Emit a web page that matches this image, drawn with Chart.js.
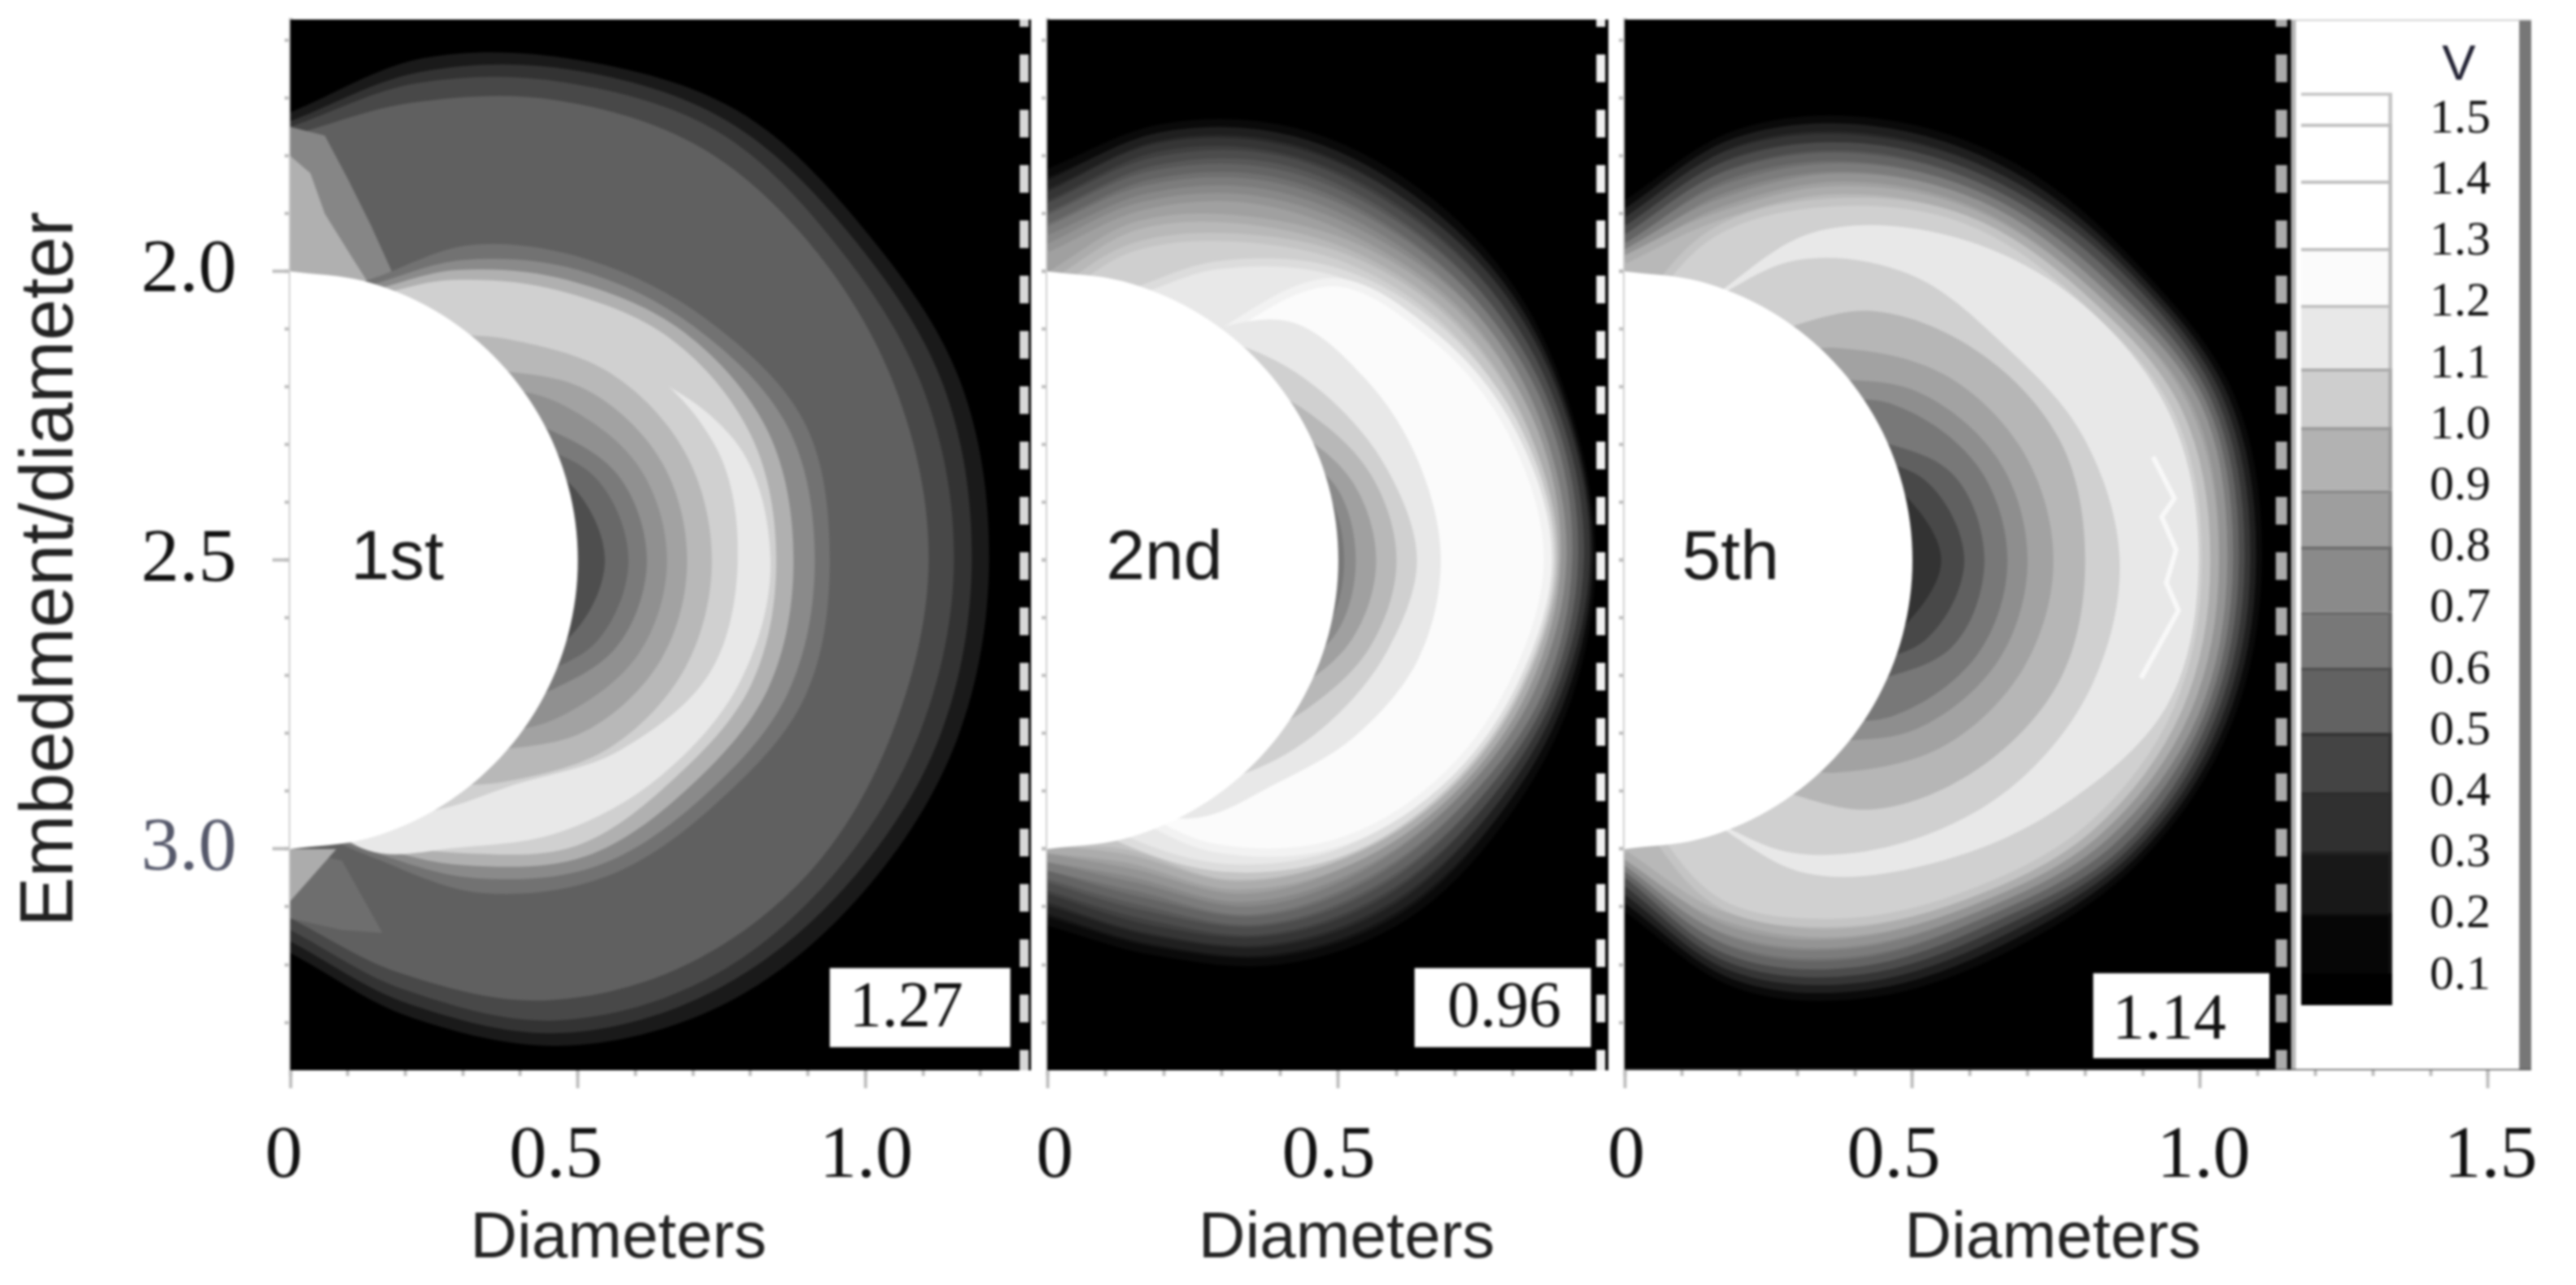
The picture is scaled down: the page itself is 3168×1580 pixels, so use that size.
<!DOCTYPE html>
<html><head><meta charset="utf-8">
<style>
html,body{margin:0;padding:0;background:#fff;overflow:hidden}
canvas{position:absolute;filter:blur(1.5px)}
</style>
<script src="https://cdn.jsdelivr.net/npm/chart.js@4"></script>
</head><body>
<canvas id="c1" width="1278" height="1580" style="left:0;top:0"></canvas>
<canvas id="c2" width="710" height="1580" style="left:1278px;top:0"></canvas>
<canvas id="c3" width="1218" height="1580" style="left:1950px;top:0"></canvas>
<canvas id="c4" width="277" height="1292" style="left:2823px;top:24px"></canvas>
<script>
// ---------- axes ----------
const yMin = 1.564, yMax = 3.383, yCentre = 2.5;
const yMajor = [2.0, 2.5, 3.0];
const yMinor = [1.6,1.7,1.8,1.9,2.0,2.1,2.2,2.3,2.4,2.5,2.6,2.7,2.8,2.9,3.0,3.1,3.2,3.3];
const p1XMax = 1.288, p2XMax = 0.964, p3XMax = 1.575;
const p1XMajor = [0,0.5,1.0], p2XMajor = [0,0.5], p3XMajor = [0,0.5,1.0,1.5];
const p1XMinor = [0,0.1,0.2,0.3,0.4,0.5,0.6,0.7,0.8,0.9,1.0,1.1,1.2];
const p2XMinor = [0,0.1,0.2,0.3,0.4,0.5,0.6,0.7,0.8,0.9];
const p3XMinor = [0,0.1,0.2,0.3,0.4,0.5,0.6,0.7,0.8,0.9,1.0,1.1,1.2,1.3,1.4,1.5];
const panelNames = ['1st','2nd','5th'];
const panelPeaks = ['1.27','0.96','1.14'];

// ---------- contour radii (diameters from the disc centre) read at these angles ----------
const angles = [90,75,60,45,30,15,0,-15,-30,-45,-60,-75,-90];
const discRadius = [.5,.5,.5,.5,.5,.5,.5,.5,.5,.5,.5,.5,.5];

const p1Colors = ['#1a1a1a','#333333','#484848','#606060','#727272','#8a8a8a','#b0b0b0','#d0d0d0','#e8e8e8','#d0d0d0','#b8b8b8','#a2a2a2','#909090','#7a7a7a','#686868','#4e4e4e'];
const p1Radii = [
 [.775,.90,1.00,1.10,1.15,1.205,1.215,1.20,1.15,1.08,.97,.82,.68],
 [.76,.875,.98,1.075,1.125,1.175,1.185,1.17,1.12,1.05,.945,.795,.66],
 [.75,.855,.955,1.05,1.095,1.14,1.154,1.135,1.09,1.025,.92,.77,.64],
 [.735,.82,.92,1.01,1.06,1.095,1.11,1.09,1.055,.985,.88,.74,.62],
 [.45,.50,.63,.735,.835,.925,.938,.925,.85,.775,.665,.53,.45],
 [.45,.49,.60,.71,.81,.895,.912,.895,.825,.75,.635,.52,.45],
 [.45,.48,.58,.685,.79,.86,.875,.86,.795,.725,.61,.51,.45],
 [.45,.47,.56,.66,.765,.83,.845,.83,.765,.70,.585,.50,.45],
 [.4,.4,.4,.4,.66,.80,.835,.81,.745,.665,.575,.52,.4],
 [.4,.4,.4,.45,.68,.765,.778,.755,.66,.55,.50,.45,.4],
 [.4,.4,.45,.54,.645,.712,.733,.712,.645,.54,.45,.4,.4],
 [.4,.4,.4,.47,.592,.667,.69,.667,.592,.47,.4,.4,.4],
 [.4,.4,.4,.44,.542,.627,.655,.627,.542,.44,.4,.4,.4],
 [.4,.4,.4,.4,.482,.586,.62,.586,.482,.4,.4,.4,.4],
 [.4,.4,.4,.4,.44,.55,.588,.55,.44,.4,.4,.4,.4],
 [.4,.4,.4,.4,.4,.505,.547,.505,.4,.4,.4,.4,.4]
];
// light wedges beside the disc in the first panel: x, signed distance from the centre line
const p1WedgeHaloX = [0,.06,.10,.14,.19,0];
const p1WedgeHaloY = [-.75,-.735,-.66,-.58,-.47,-.45];
const p1WedgeX = [0,.035,.06,.11,.155,0];
const p1WedgeY = [-.70,-.67,-.60,-.52,-.45,-.45];
const p1LowPatchX = [0,.09,.16,.09,0];
const p1LowPatchY = [.50,.52,.645,.64,.62];
const p1LowWedgeX = [0,.08,0];
const p1LowWedgeY = [.50,.50,.59];

const p2Colors = ['#141414','#2a2a2a','#404040','#585858','#707070','#888888','#a0a0a0','#b8b8b8','#cfcfcf','#e8e8e8','#fbfbfb','#e8e8e8','#d0d0d0','#b8b8b8','#a0a0a0','#8a8a8a','#787878'];
const p2Halftones = ['#0a0a0a','#1f1f1f','#353535','#4c4c4c','#646464','#7c7c7c','#949494','#acacac','#c4c4c4','#dcdcdc','#f2f2f2'];
const p2Radii = [
 [.67,.775,.855,.90,.925,.93,.935,.925,.90,.87,.80,.70,.625],
 [.65,.76,.84,.885,.915,.925,.93,.915,.885,.85,.78,.68,.605],
 [.63,.74,.82,.87,.905,.92,.925,.905,.87,.83,.76,.66,.585],
 [.61,.715,.80,.85,.89,.91,.915,.895,.855,.81,.74,.635,.565],
 [.59,.69,.775,.83,.875,.90,.905,.885,.84,.79,.72,.61,.545],
 [.57,.665,.75,.81,.86,.89,.895,.875,.825,.77,.70,.585,.53],
 [.54,.635,.72,.785,.845,.875,.885,.86,.81,.75,.675,.56,.515],
 [.49,.60,.68,.76,.825,.865,.875,.85,.80,.735,.65,.535,.50],
 [.45,.56,.645,.735,.805,.85,.87,.84,.79,.72,.63,.51,.49],
 [.42,.47,.59,.705,.785,.84,.865,.835,.785,.715,.615,.50,.40],
 [.4,.4,.4,.68,.77,.83,.86,.828,.775,.695,.575,.44,.4],
 [.4,.4,.45,.585,.63,.66,.676,.66,.61,.55,.515,.44,.4],
 [.4,.4,.45,.51,.56,.605,.635,.605,.56,.51,.45,.4,.4],
 [.4,.4,.4,.45,.515,.575,.60,.575,.515,.45,.4,.4,.4],
 [.4,.4,.4,.4,.47,.54,.565,.54,.47,.4,.4,.4,.4],
 [.4,.4,.4,.4,.43,.51,.53,.51,.43,.4,.4,.4,.4],
 [.4,.4,.4,.4,.4,.49,.51,.49,.4,.4,.4,.4,.4]
];

const p3Colors = ['#141414','#2a2a2a','#404040','#585858','#707070','#888888','#a0a0a0','#b8b8b8','#d0d0d0','#e8e8e8','#d0d0d0','#b6b6b6','#a2a2a2','#8e8e8e','#787878','#606060','#484848','#333333'];
const p3Halftones = ['#0a0a0a','#1f1f1f','#353535','#4c4c4c','#646464','#7c7c7c','#949494','#acacac','#c4c4c4'];
const p3Radii = [
 [.615,.765,.875,.96,1.02,1.09,1.10,1.085,1.03,.945,.865,.76,.60],
 [.60,.75,.86,.945,1.01,1.08,1.09,1.075,1.02,.93,.85,.745,.585],
 [.585,.73,.84,.93,1.00,1.07,1.08,1.065,1.01,.915,.835,.73,.57],
 [.57,.71,.825,.915,.99,1.06,1.07,1.055,1.00,.90,.82,.715,.555],
 [.555,.69,.805,.90,.975,1.05,1.06,1.045,.99,.885,.805,.70,.54],
 [.54,.665,.785,.885,.96,1.04,1.05,1.035,.975,.87,.785,.68,.53],
 [.53,.64,.765,.87,.945,1.03,1.04,1.025,.96,.855,.765,.66,.52],
 [.52,.615,.74,.85,.93,1.01,1.025,1.01,.945,.84,.745,.635,.51],
 [.4,.585,.715,.835,.915,.995,1.01,.995,.93,.825,.725,.61,.4],
 [.4,.45,.655,.795,.905,.98,.997,.975,.865,.745,.625,.45,.4],
 [.4,.45,.6,.70,.755,.825,.86,.84,.78,.69,.585,.45,.4],
 [.4,.4,.45,.61,.715,.785,.80,.785,.715,.61,.45,.4,.4],
 [.4,.4,.4,.52,.642,.718,.745,.718,.642,.52,.4,.4,.4],
 [.4,.4,.4,.45,.585,.672,.70,.672,.585,.45,.4,.4,.4],
 [.4,.4,.4,.4,.539,.634,.665,.634,.539,.4,.4,.4,.4],
 [.4,.4,.4,.4,.45,.587,.625,.587,.45,.4,.4,.4,.4],
 [.4,.4,.4,.4,.4,.539,.59,.539,.4,.4,.4,.4,.4],
 [.4,.4,.4,.4,.4,.49,.55,.49,.4,.4,.4,.4,.4]
];
const p3StreakX = [.918,.955,.933,.958,.941,.962,.897];
const p3StreakY = [2.321,2.393,2.425,2.482,2.539,2.587,2.704];

// ---------- colour bar ----------
const barTicks = [0.1,0.2,0.3,0.4,0.5,0.6,0.7,0.8,0.9,1.0,1.1,1.2,1.3,1.4,1.5];
const barEdges = [1.544,1.493,1.40,1.29,1.197,1.093,.997,.894,.802,.695,.604,.497,.40,.303,.203,.104,.052];
const barFills = ['#ffffff','#ffffff','#ffffff','#fbfbfb','#e8e8e8','#cecece','#b2b2b2','#9e9e9e','#8a8a8a','#787878','#626262','#444444','#303030','#181818','#060606','#000000'];
const barRules = ['#c4c4c4','#bdbdbd','#bdbdbd','#bdbdbd','#bdbdbd','#aaaaaa','#9a9a9a','#8a8a8a','#6e6e6e','#666666','#505050','#333333','#2c2c2c','#222222','#111111','#000000'];

// ---------- drawing helpers ----------
const serif = 'Liberation Serif', sans = 'Liberation Sans';
function polar(r){ return angles.map((a,i)=>({x:r[i]*Math.cos(a*Math.PI/180), y:yCentre-r[i]*Math.sin(a*Math.PI/180)})); }
function poly(xs,ys){ return xs.map((x,i)=>({x, y:yCentre+ys[i]})); }
function filled(data,color,tension,edge){ return {data,backgroundColor:color,borderColor:edge||color,borderWidth:edge?10:0,pointRadius:0,showLine:true,fill:'shape',tension:tension}; }
function stroke(data,color,width,dash,offset){ return {data,borderColor:color,backgroundColor:color,borderWidth:width,pointRadius:0,showLine:true,fill:false,tension:0,borderDash:dash||[],borderDashOffset:offset||0,borderCapStyle:'butt'}; }
function rect(x0,x1,color){ return filled([{x:x0,y:yMin},{x:x1,y:yMin},{x:x1,y:yMax},{x:x0,y:yMax}],color,0); }

const notesPlugin = {
  id:'notes',
  afterDatasetsDraw(chart,args,o){
    const ctx=chart.ctx, xs=chart.scales.x, ys=chart.scales.y;
    ctx.save();
    (o.boxes||[]).forEach(b=>{
      ctx.fillStyle='#fff';
      const x0=xs.getPixelForValue(b.x0),x1=xs.getPixelForValue(b.x1),y0=ys.getPixelForValue(b.y0),y1=ys.getPixelForValue(b.y1);
      ctx.fillRect(x0,y0,x1-x0,y1-y0);
    });
    (o.texts||[]).forEach(t=>{
      ctx.font=t.font; ctx.fillStyle=t.color; ctx.textAlign='center'; ctx.textBaseline='alphabetic';
      ctx.fillText(t.text,xs.getPixelForValue(t.x),ys.getPixelForValue(t.y));
    });
    ctx.restore();
  }
};
const nudgePlugin = {
  id:'nudge',
  afterUpdate(chart,args,o){
    if(o.labelDx){ chart.scales.x.getLabelItems().forEach((it,i)=>{ it.options.translation[0]+=o.labelDx[i]||0; }); }
    const wrap=(scale,dx,dy)=>{ const orig=scale.drawTitle; if(scale._wrapped) return; scale._wrapped=true;
      scale.drawTitle=function(){ const c=this.ctx; c.save(); c.translate(dx,dy); orig.apply(this,arguments); c.restore(); }; };
    if(o.titleDx!==undefined) wrap(chart.scales.x,o.titleDx,0);
    if(o.yTitleDy!==undefined) wrap(chart.scales.y,0,o.yTitleDy);
  }
};
Chart.register(notesPlugin,nudgePlugin);

function setTicks(arr){ return s=>{ s.ticks=arr.map(v=>({value:v})); }; }
function scaleSet(cfg){
  const tick='#bcbcbc';
  return {
    x:{type:'linear',min:0,max:cfg.xMax,position:'bottom',
       afterBuildTicks:setTicks(cfg.xMajor),afterFit:a=>{a.height=264;a.paddingLeft=0;a.paddingRight=0;},
       border:{display:false},
       grid:{drawOnChartArea:false,drawTicks:true,tickLength:22,tickColor:tick,tickWidth:4},
       ticks:{autoSkip:false,maxRotation:0,padding:30,color:'#111',font:{family:serif,size:92},
              callback:v=>v===0?'0':v.toFixed(1)},
       title:{display:true,text:'Diameters',color:'#222',font:{family:sans,size:80},padding:{top:0,bottom:8}}},
    y:{type:'linear',min:yMin,max:yMax,reverse:true,position:'left',
       afterBuildTicks:setTicks(yMajor),afterFit:a=>{a.width=cfg.yWidth;a.paddingTop=0;a.paddingBottom=0;},
       border:{display:true,color:'#cfcfcf',width:5},
       grid:{drawOnChartArea:false,drawTicks:true,tickLength:cfg.yLabels?22:7,tickColor:tick,tickWidth:4},
       ticks:{display:cfg.yLabels,autoSkip:false,padding:44,font:{family:serif,size:94},
              color:c=>c.tick.value===3?'#55586a':'#111',callback:v=>v.toFixed(1)},
       title:{display:cfg.yLabels,text:'Embedment/diameter',color:'#222',font:{family:sans,size:92},padding:{top:8,bottom:0}}},
    xMinor:{type:'linear',min:0,max:cfg.xMax,position:{y:yMax},
       afterBuildTicks:setTicks(cfg.xMinor),
       border:{display:false},
       grid:{drawOnChartArea:false,drawTicks:true,tickLength:7,tickColor:tick,tickWidth:4},ticks:{display:false}},
    yMinor:{type:'linear',min:yMin,max:yMax,reverse:true,position:{x:0},
       afterBuildTicks:setTicks(yMinor),
       border:{display:false},
       grid:{drawOnChartArea:false,drawTicks:true,tickLength:7,tickColor:tick,tickWidth:4},ticks:{display:false}}
  };
}
function panel(id,cfg){
  return new Chart(document.getElementById(id),{
    type:'scatter',
    data:{datasets:cfg.datasets.slice().reverse()},
    options:{responsive:false,animation:false,events:[],devicePixelRatio:1,
      layout:{padding:{left:0,right:cfg.right,top:24,bottom:0}},
      scales:scaleSet(cfg),
      plugins:{legend:{display:false},tooltip:{enabled:false},
        notes:cfg.notes,nudge:cfg.nudge}}
  });
}
function contours(radii,colors,edges){ return radii.map((r,i)=>filled(polar(r),colors[i],0.34,edges&&edges[i])); }
function dashes(x,color,width){ return stroke([{x,y:yMin},{x,y:yMax}],color,width,[34,34],25); }

// Panel 1
panel('c1',{xMax:p1XMax,xMajor:p1XMajor,xMinor:p1XMinor,yWidth:357,yLabels:true,right:10,
  datasets:[rect(0,p1XMax,'#000000')]
    .concat(contours(p1Radii.slice(0,4),p1Colors.slice(0,4)))
    .concat([filled(poly(p1WedgeHaloX,p1WedgeHaloY),'#868686',0),filled(poly(p1WedgeX,p1WedgeY),'#b0b0b0',0),
             filled(poly(p1LowPatchX,p1LowPatchY),'#6e6e6e',0),filled(poly(p1LowWedgeX,p1LowWedgeY),'#acacac',0)])
    .concat(contours(p1Radii.slice(4),p1Colors.slice(4)))
    .concat([filled(polar(discRadius),'#ffffff',0.34),dashes(1.276,'#d8d8d8',11)]),
  notes:{boxes:[{x0:.938,x1:1.252,y0:3.206,y1:3.343}],
    texts:[{text:panelNames[0],x:.186,y:2.532,font:'86px "'+sans+'"',color:'#1a1a1a'},
           {text:panelPeaks[0],x:1.071,y:3.307,font:'80px "'+serif+'"',color:'#111'}]},
  nudge:{labelDx:[-8,-27,1],titleDx:-52,yTitleDy:30}});

// Panel 2
panel('c2',{xMax:p2XMax,xMajor:p2XMajor,xMinor:p2XMinor,yWidth:10,yLabels:false,right:10,
  datasets:[rect(0,p2XMax,'#000000')]
    .concat(contours(p2Radii,p2Colors,p2Halftones))
    .concat([filled(polar(discRadius),'#ffffff',0.34),dashes(.951,'#f0f0f0',11)]),
  notes:{boxes:[{x0:.631,x1:.934,y0:3.206,y1:3.343}],
    texts:[{text:panelNames[1],x:.201,y:2.532,font:'86px "'+sans+'"',color:'#1a1a1a'},
           {text:panelPeaks[1],x:.785,y:3.307,font:'80px "'+serif+'"',color:'#111'}]},
  nudge:{labelDx:[9,-12],titleDx:23}});

// Panel 3 (its axis runs on under the colour bar)
panel('c3',{xMax:p3XMax,xMajor:p3XMajor,xMinor:p3XMinor,yWidth:48,yLabels:false,right:55,
  datasets:[rect(0,1.158,'#000000')]
    .concat(contours(p3Radii,p3Colors,p3Halftones))
    .concat([filled(polar(discRadius),'#ffffff',0.34),
      stroke(p3StreakX.map((x,i)=>({x,y:p3StreakY[i]})),'#f8f8f8',6),
      dashes(1.141,'#ababab',14),
      rect(1.554,1.575,'#777777'),
      rect(1.158,1.166,'#b4b4b4'),
      stroke([{x:1.158,y:yMin},{x:1.575,y:yMin}],'#c4c4c4',3),
      stroke([{x:0,y:yMax},{x:1.575,y:yMax}],'#555555',3)]),
  notes:{boxes:[{x0:.814,x1:1.12,y0:3.215,y1:3.362}],
    texts:[{text:panelNames[2],x:.184,y:2.532,font:'86px "'+sans+'"',color:'#1a1a1a'},
           {text:panelPeaks[2],x:.946,y:3.328,font:'80px "'+serif+'"',color:'#111'}]},
  nudge:{labelDx:[2,-23,4,3],titleDx:-31}});

// Colour bar
new Chart(document.getElementById('c4'),{
  type:'bar',
  data:{labels:['V'],datasets:barFills.map((c,i)=>({
    data:[[barEdges[i+1],barEdges[i]]],backgroundColor:c,borderColor:barRules[i],
    borderWidth:{top:4,right:5,left:0,bottom:0},borderSkipped:false,
    barPercentage:1,categoryPercentage:1,grouped:false}))},
  options:{responsive:false,animation:false,events:[],devicePixelRatio:1,
    layout:{padding:{left:7,right:0,top:90,bottom:80}},
    scales:{
      x:{display:false},
      y:{type:'linear',position:'right',min:.052,max:1.544,
         afterBuildTicks:setTicks(barTicks),afterFit:a=>{a.width=158;a.paddingTop=0;a.paddingBottom=0;},
         border:{display:false},grid:{display:false,drawTicks:false},
         ticks:{autoSkip:false,padding:46,color:'#111',font:{family:serif,size:60},callback:v=>v.toFixed(1)}}},
    plugins:{legend:{display:false},tooltip:{enabled:false}}},
  plugins:[{id:'vLabel',afterDraw(chart){const c=chart.ctx;c.save();c.font='62px "'+sans+'"';c.fillStyle='#223';c.textAlign='center';
    c.fillText('V',chart.chartArea.right+82,74);c.restore();}}]
});
</script>
</body></html>
